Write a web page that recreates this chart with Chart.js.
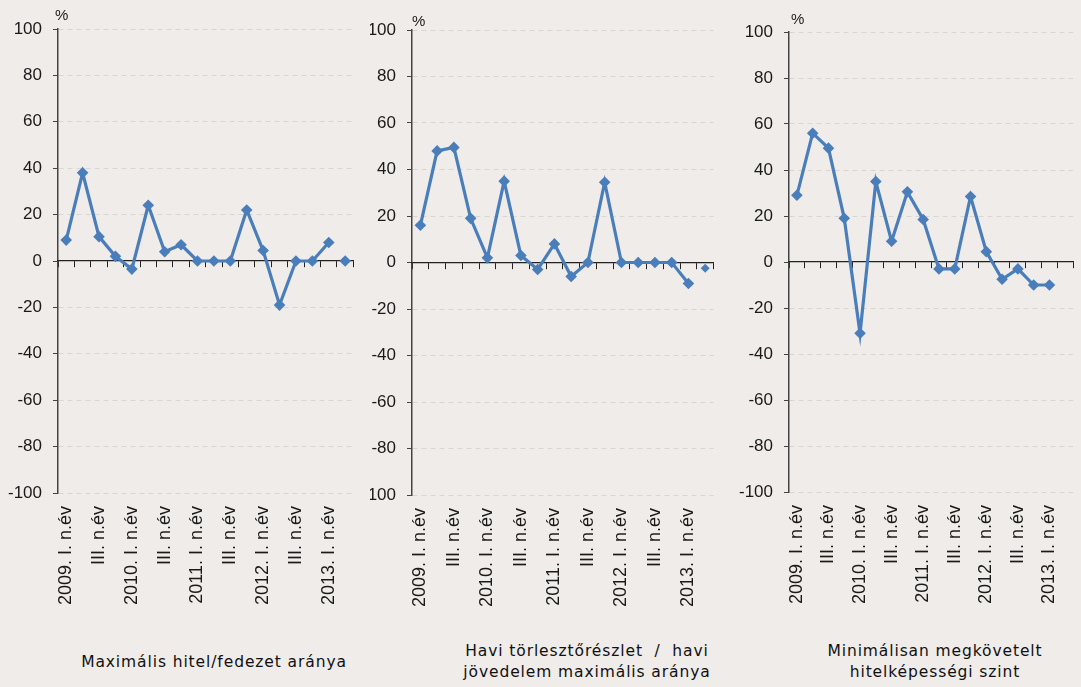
<!DOCTYPE html>
<html>
<head>
<meta charset="utf-8">
<script src="https://cdn.jsdelivr.net/npm/chart.js@4.4.0/dist/chart.umd.min.js"></script>
<style>
  html, body { margin: 0; padding: 0; background: #efece9; width: 1081px; height: 687px; overflow: hidden; position: relative; }
  .panel { position: absolute; top: 0; height: 620px; }
  .pct { position: absolute; font: 15px "Liberation Sans", Arial, sans-serif; color: #222; }
  .ttl { position: absolute; width: 360px; text-align: center; white-space: nowrap;
         font: 15.5px "DejaVu Sans", sans-serif; letter-spacing: 0.9px; line-height: 21px; color: #111; }
</style>
</head>
<body>
<div class="panel" style="left:0;width:380px"><canvas id="c1"></canvas></div>
<div class="panel" style="left:370px;width:370px"><canvas id="c2"></canvas></div>
<div class="panel" style="left:735px;width:365px"><canvas id="c3"></canvas></div>

<div class="pct" style="left:55px;top:6px">%</div>
<div class="pct" style="left:412px;top:12px">%</div>
<div class="pct" style="left:791px;top:10px">%</div>

<div class="ttl" style="left:34px;top:652px">Maximális hitel/fedezet aránya</div>
<div class="ttl" style="left:407px;top:641px">Havi törlesztőrészlet &nbsp;/ &nbsp;havi<br>jövedelem maximális aránya</div>
<div class="ttl" style="left:755px;top:641px">Minimálisan megkövetelt<br>hitelképességi szint</div>

<script>
// ─── DATA ────────────────────────────────────────────────────────────────────
const quarters = [
  '2009. I. n.év', 'II. n.év', 'III. n.év', 'IV. n.év',
  '2010. I. n.év', 'II. n.év', 'III. n.év', 'IV. n.év',
  '2011. I. n.év', 'II. n.év', 'III. n.év', 'IV. n.év',
  '2012. I. n.év', 'II. n.év', 'III. n.év', 'IV. n.év',
  '2013. I. n.év', 'II. n.év'
];
const yTicks = [-100, -80, -60, -40, -20, 0, 20, 40, 60, 80, 100];

// 2009 I - 2013 I
const ltvHist    = [9, 38, 10.5, 2, -3.5, 24, 4, 7, 0, 0, 0, 22, 4.5, -19, 0, 0, 8];
const ptiHist    = [16, 48, 49.5, 19, 2, 35, 3, -3, 8, -6, 0, 34.5, 0, 0, 0, 0, -9];
const creditHist = [29, 56, 49.5, 19, -31, 35, 9, 30.5, 18.5, -3, -3, 28.5, 4.5, -7.5, -3, -10, -10];
// 2013 II (shown as a separate marker)
const ltvNext    = [0];
const ptiNext    = [-2.5];
const creditNext = [null];

const BLUE = '#4a7ebb';

// ─── CHART ───────────────────────────────────────────────────────────────────
function makePanel(id, hist, next, geo) {
  const n = quarters.length;
  const main = hist.concat(Array(n - hist.length).fill(null));
  const last = Array(n - next.length).fill(null).concat(next);

  return new Chart(document.getElementById(id), {
    type: 'line',
    data: {
      labels: quarters,
      datasets: [
        { data: main, borderColor: BLUE, backgroundColor: BLUE, borderWidth: 3.2, tension: 0,
          pointStyle: 'rectRot', pointRadius: 5.8, pointBorderWidth: 0, pointBackgroundColor: BLUE },
        { data: last, showLine: false, borderColor: BLUE, backgroundColor: BLUE,
          pointStyle: 'rectRot', pointRadius: geo.lastR, pointBorderWidth: 0, pointBackgroundColor: BLUE }
      ]
    },
    options: {
      responsive: true, maintainAspectRatio: false, animation: false,
      layout: { padding: { top: geo.top, right: geo.right, bottom: 0, left: 0 } },
      plugins: { legend: { display: false }, tooltip: { enabled: false } },
      scales: {
        y: {
          min: -100, max: 100,
          afterFit: s => { s.width = geo.yw; },
          afterBuildTicks: s => { s.ticks = yTicks.map(v => ({ value: v })); },
          ticks: { padding: 11, color: '#1a1a1a', font: { family: 'Liberation Sans', size: 17 } },
          grid: { color: c => c.tick && c.tick.value === 0 ? 'rgba(0,0,0,0)' : '#d9d6d2',
                  tickColor: '#444', tickLength: 5, lineWidth: 1 },
          border: { display: true, color: '#444', width: 1.5, dash: [5, 4] }
        },
        x: {
          type: 'category', position: { y: 0 }, offset: true,
          ticks: { display: false },
          grid: { offset: true, drawOnChartArea: false, drawTicks: true, tickLength: 6, tickColor: '#222', lineWidth: 1 },
          border: { display: true, color: '#222', width: 1.2 }
        },
        x2: {
          type: 'category', position: 'bottom', labels: quarters, offset: true,
          afterFit: s => { s.height = geo.xh; },
          grid: { display: false, drawTicks: false }, border: { display: false },
          ticks: { autoSkip: false, minRotation: 90, maxRotation: 90, padding: 13,
                   color: '#1a1a1a', font: { family: 'Liberation Sans', size: 18 },
                   callback: (v, i) => i % 2 === 0 ? quarters[i] : '' }
        }
      }
    }
  });
}

makePanel('c1', ltvHist, ltvNext,       { top: 29, right: 8,   yw: 58, xh: 127, lastR: 5.8 });
makePanel('c2', ptiHist, ptiNext,       { top: 30, right: 7,   yw: 42, xh: 125, lastR: 4.5 });
makePanel('c3', creditHist, creditNext, { top: 32, right: 4.5, yw: 54, xh: 128, lastR: 4.5 });
</script>
</body>
</html>
